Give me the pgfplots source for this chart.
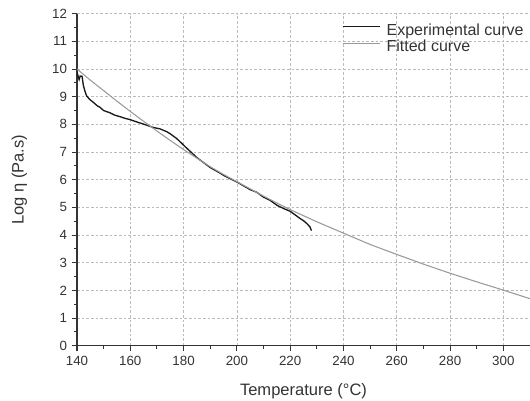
\documentclass[border=0pt]{standalone}
\usepackage{pgfplots}
\pgfplotsset{compat=1.18}
\usepackage{fontspec}
\setmainfont{Liberation Sans}
\definecolor{axgray}{HTML}{333333}
\definecolor{gridgray}{HTML}{BBBBBB}
\definecolor{fitgray}{HTML}{9A9A9A}
\begin{document}
\begin{tikzpicture}
\begin{axis}[
  at={(0,0)}, anchor=south west,
  scale only axis, width=339.75pt, height=249pt,
  xmin=140, xmax=310, ymin=0, ymax=12,
  xtick={140,160,...,300}, ytick={0,1,...,12},
  minor x tick num=1, minor y tick num=1,
  axis lines=left, axis line style={axgray, line width=0.9pt, -},
  tick style={axgray, line width=0.8pt},
  major tick length=4pt, minor tick length=2.5pt,
  tick align=outside,
  grid=major,
  major grid style={gridgray, line width=0.5pt, dash pattern=on 2pt off 1.5pt},
  /pgf/number format/assume math mode=true,
  ticklabel style={font=\fontsize{10}{12}\selectfont, text=axgray},
  xlabel={Temperature (°C)}, ylabel={Log η (Pa.s)},
  label style={font=\fontsize{12.4}{14}\selectfont, text=axgray},
  xlabel style={yshift=-7pt},
  ylabel style={yshift=12pt},
  legend cell align=left,
  legend style={draw=none, fill=none, at={(0.5857,0.972)}, anchor=north west,
    inner sep=0pt, row sep=0pt, font=\fontsize{12}{14}\selectfont, text=axgray,
    nodes={inner xsep=2pt, inner ysep=0pt, text height=9pt, text depth=3.5pt}},
  legend image code/.code={\draw[#1] (0pt,3.8pt) -- (27.5pt,3.8pt); \path[draw=none] (30.5pt,3.8pt) circle[radius=0pt];},
  clip=true,
]
\addplot[color=black!90, line width=1pt] coordinates {
(140.0,9.90) (140.4,9.75) (140.8,9.62) (141.2,9.75) (141.9,9.74) (142.4,9.40)
(143.0,9.20) (143.6,9.03) (144.9,8.89) (146.1,8.80) (147.5,8.68) (148.6,8.62)
(150.0,8.50) (152.4,8.42) (154.0,8.34) (156.1,8.28) (158.0,8.22) (160.0,8.17)
(162.4,8.09) (165.0,8.01) (167.4,7.93) (169.0,7.88) (171.1,7.84) (173.6,7.74)
(175.0,7.66) (177.4,7.49) (180.0,7.25) (181.2,7.14) (185.0,6.80) (190.0,6.44)
(193.7,6.24) (195.0,6.16) (200.0,5.92) (205.0,5.64) (207.4,5.55) (210.0,5.37)
(212.4,5.26) (215.0,5.08) (217.5,4.96) (220.0,4.86) (222.0,4.72) (223.7,4.60)
(225.0,4.52) (226.2,4.42) (227.4,4.30) (228.0,4.16)
};
\addlegendentry{Experimental curve}
\addplot[color=fitgray, line width=0.8pt] coordinates {
(140,10.00) (145,9.60) (150,9.22) (155,8.84) (160,8.47) (165,8.11) (170,7.76)
(175,7.42) (180,7.09) (185,6.78) (190,6.47) (195,6.19) (200,5.93) (205,5.67)
(210,5.41) (215,5.16) (220,4.92) (230,4.48) (240,4.07) (250,3.66) (260,3.30)
(270,2.95) (280,2.62) (290,2.31) (300,2.01) (310,1.70)
};
\addlegendentry{Fitted curve}
\end{axis}
\pgfresetboundingbox
\useasboundingbox (-57.75pt,-40.7pt) rectangle (339.75pt,259.3pt);
\end{tikzpicture}
\end{document}
